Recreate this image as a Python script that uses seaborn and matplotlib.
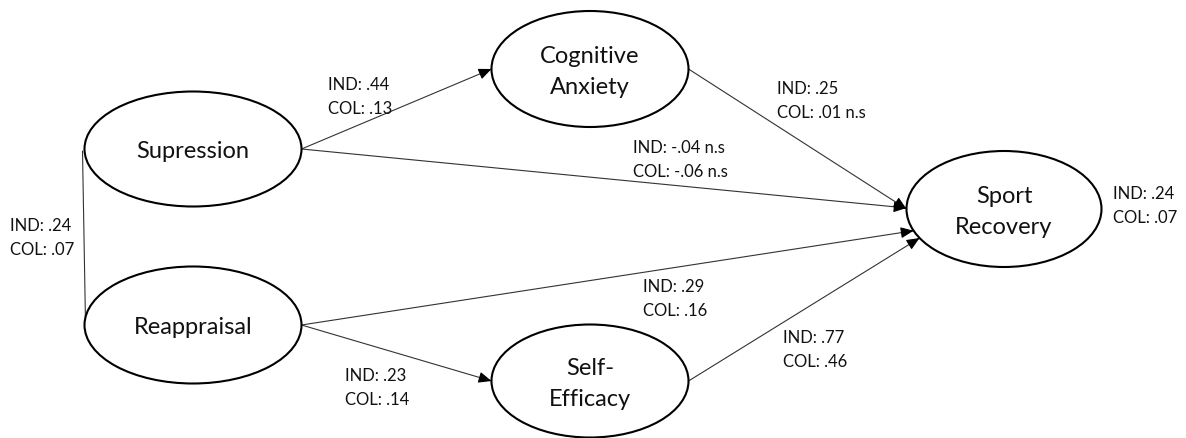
import numpy as np
import matplotlib
matplotlib.use("Agg")
import matplotlib.pyplot as plt
from matplotlib.patches import Ellipse
import seaborn as sns

# ---- data ----
nodes = ["Supression", "Reappraisal", "Cognitive\nAnxiety", "Self-\nEfficacy", "Sport\nRecovery"]
edge_src = ["Supression", "Supression", "Cognitive\nAnxiety", "Reappraisal", "Reappraisal", "Self-\nEfficacy"]
edge_dst = ["Cognitive\nAnxiety", "Sport\nRecovery", "Sport\nRecovery", "Sport\nRecovery", "Self-\nEfficacy", "Sport\nRecovery"]
ind_vals = [".44", "-.04 n.s", ".25", ".29", ".23", ".77"]
col_vals = [".13", "-.06 n.s", ".01 n.s", ".16", ".14", ".46"]
corr_ind = ".24"
corr_col = ".07"
r2_ind = ".24"
r2_col = ".07"

# ---- layout (pixel coordinates) ----
centers = {
    "Supression": (193, 150), "Reappraisal": (193, 326),
    "Cognitive\nAnxiety": (590, 70), "Self-\nEfficacy": (590, 382),
    "Sport\nRecovery": (1004, 210),
}
sizes = {
    "Supression": (217, 115), "Reappraisal": (217, 117),
    "Cognitive\nAnxiety": (197, 116), "Self-\nEfficacy": (197, 113),
    "Sport\nRecovery": (195, 116),
}
# angle (deg, y down) on target boundary where arrow ends
end_angle = [180, 181, 180, 158, 180, 150]
label_pos = [(328, 97), (633, 160), (777, 101), (643, 299), (345, 388), (783, 350)]

sns.set_theme(style="white")
plt.rcParams['font.family'] = ['Lato', 'DejaVu Sans']

fig = plt.figure(figsize=(11.86, 4.39), dpi=100)
ax = fig.add_axes([0, 0, 1, 1])
ax.set_xlim(0, 1186)
ax.set_ylim(439, 0)
ax.axis("off")

for n in nodes:
    cx, cy = centers[n]
    w, h = sizes[n]
    ax.add_patch(Ellipse((cx, cy), w, h, facecolor="white", edgecolor="black", lw=1.5, zorder=3))
    ax.text(cx, cy + 2, n, ha="center", va="center", fontsize=17, linespacing=1.55, zorder=4, color="#111111")

def boundary(n, ang):
    cx, cy = centers[n]
    w, h = sizes[n]
    t = np.deg2rad(ang)
    return cx + w / 2 * np.cos(t), cy + h / 2 * np.sin(t)

lab_fs = 12
for s, d, a, iv, cv, lp in zip(edge_src, edge_dst, end_angle, ind_vals, col_vals, label_pos):
    x0, y0 = boundary(s, 0)
    x1, y1 = boundary(d, a)
    sns.lineplot(x=[x0, x1], y=[y0, y1], ax=ax, color="#333333", lw=0.8, sort=False, zorder=2)
    ax.annotate("", xy=(x1, y1), xytext=(x1 - (x1 - x0) * 0.02, y1 - (y1 - y0) * 0.02),
                arrowprops=dict(arrowstyle="-|>,head_length=0.65,head_width=0.28", color="black", lw=0.8,
                                shrinkA=0, shrinkB=0), zorder=2)
    ax.text(lp[0], lp[1], f"IND: {iv}\nCOL: {cv}", ha="left", va="center", fontsize=lab_fs,
            linespacing=1.55, color="#111111")

# correlation between exogenous variables
sx, sy = boundary("Supression", 180)
rx, ry = boundary("Reappraisal", 180)
sns.lineplot(x=[sx - 2, rx + 1], y=[sy + 2, ry - 2], ax=ax, color="#333333", lw=0.8, sort=False, zorder=2)
ax.text(10, 238, f"IND: {corr_ind}\nCOL: {corr_col}", ha="left", va="center", fontsize=lab_fs,
        linespacing=1.55, color="#111111")

# R^2 for outcome
ax.text(1113, 206, f"IND: {r2_ind}\nCOL: {r2_col}", ha="left", va="center", fontsize=lab_fs,
        linespacing=1.55, color="#111111")

fig.savefig("out.png", dpi=100, facecolor="white")
